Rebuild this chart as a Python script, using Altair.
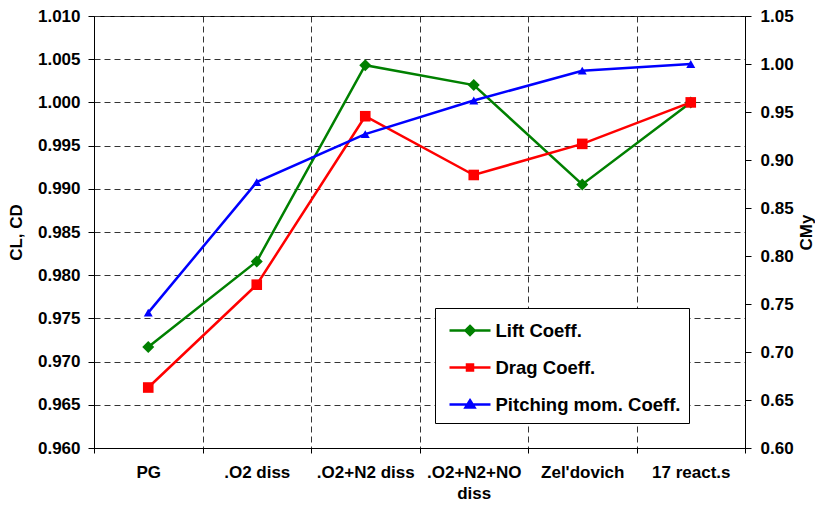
import altair as alt
import pandas as pd

categories = ["PG", ".O2 diss", ".O2+N2 diss", ".O2+N2+NO diss", "Zel'dovich", "17 react.s"]
lift = [0.9717, 0.9816, 1.0043, 1.0020, 0.9905, 1.0000]
drag = [0.9670, 0.9789, 0.9984, 0.9916, 0.9952, 1.0000]
pitch = [0.741, 0.877, 0.927, 0.962, 0.993, 1.000]

series_names = ["Lift Coeff.", "Drag Coeff.", "Pitching mom. Coeff."]
colors = ["#008000", "#ff0000", "#0000ff"]
shapes = ["diamond", "square", "triangle-up"]
marker_sizes = [144, 81, 110]
# legend glyphs: a short line with the series marker on it
legend_glyphs = [
    "M-0.64,0L2.64,0M1,-0.36L1.36,0L1,0.36L0.64,0Z",
    "M-0.64,0L2.64,0M0.76,-0.24L1.24,-0.24L1.24,0.24L0.76,0.24Z",
    "M-0.64,0L2.64,0M1,-0.34L1.36,0.24L0.64,0.24Z",
]

left_ticks = [0.960, 0.965, 0.970, 0.975, 0.980, 0.985, 0.990, 0.995, 1.000, 1.005, 1.010]
right_ticks = [0.60, 0.65, 0.70, 0.75, 0.80, 0.85, 0.90, 0.95, 1.00, 1.05]

left_df = pd.DataFrame({
    "cat": categories * 2,
    "val": lift + drag,
    "series": [series_names[0]] * len(categories) + [series_names[1]] * len(categories),
})
right_df = pd.DataFrame({
    "cat": categories,
    "val": pitch,
    "series": [series_names[2]] * len(categories),
})
legend_df = pd.DataFrame({"key": series_names})

FONT = "Liberation Sans"
FS = 17

x_enc = alt.X(
    "cat:N",
    sort=categories,
    scale=alt.Scale(paddingInner=0, paddingOuter=0),
    axis=alt.Axis(
        title=None,
        tickBand="extent",
        grid=True,
        gridDash=[6, 4],
        gridColor="#333333",
        gridWidth=1,
        labelAngle=0,
        labelOverlap=False,
        labelBound=False,
        labelPadding=11,
        labelLineHeight=21,
        tickSize=5,
        labelExpr="datum.label == '.O2+N2+NO diss' ? ['.O2+N2+NO', 'diss'] : datum.label",
    ),
)

color_scale = alt.Scale(domain=series_names, range=colors)
shape_scale = alt.Scale(domain=series_names, range=shapes)
size_scale = alt.Scale(domain=series_names, range=marker_sizes)
glyph_scale = alt.Scale(domain=series_names, range=legend_glyphs)

LEG_X = 341
LEG_Y = 292

legend = alt.Legend(
    title=None,
    orient="none",
    legendX=LEG_X,
    legendY=LEG_Y,
    symbolSize=625,
    symbolStrokeWidth=2.5,
    symbolOpacity=1,
    labelFont=FONT,
    labelFontSize=18.5,
    labelFontWeight="bold",
    labelColor="black",
    labelLimit=300,
    labelOffset=24,
    strokeColor="black",
    fillColor="white",
    padding=8.5,
    rowPadding=13,
)

left_y = alt.Y(
    "val:Q",
    scale=alt.Scale(domain=[0.960, 1.010], nice=False, zero=False),
    axis=alt.Axis(
        title="CL, CD",
        orient="left",
        values=left_ticks,
        format=".3f",
        grid=True,
        gridDash=[6, 4],
        gridColor="#333333",
        tickSize=6,
        labelPadding=8,
        titlePadding=12,
    ),
)

right_y = alt.Y(
    "val:Q",
    scale=alt.Scale(domain=[0.60, 1.05], nice=False, zero=False),
    axis=alt.Axis(
        title="CMy",
        orient="right",
        values=right_ticks,
        format=".2f",
        grid=False,
        tickSize=6,
        labelPadding=9,
        titlePadding=5,
        titleAngle=-90,
        titleBaseline="top",
    ),
)


def line_layer(df, y):
    return alt.Chart(df).mark_line(strokeWidth=2.5).encode(
        x=x_enc,
        y=y,
        stroke=alt.Stroke("series:N", scale=color_scale, legend=None),
    )


def point_layer(df, y):
    return alt.Chart(df).mark_point(filled=True, opacity=1).encode(
        x=x_enc,
        y=y,
        fill=alt.Fill("series:N", scale=color_scale, legend=None),
        shape=alt.Shape("series:N", scale=shape_scale, legend=None),
        size=alt.Size("series:N", scale=size_scale, legend=None),
    )


left = alt.layer(line_layer(left_df, left_y), point_layer(left_df, left_y))
right = alt.layer(line_layer(right_df, right_y), point_layer(right_df, right_y))

legend_layer = alt.Chart(legend_df).mark_point(filled=True, opacity=0).encode(
    x=alt.value(0),
    y=alt.value(0),
    fill=alt.Fill("key:N", scale=color_scale, legend=legend),
    stroke=alt.Stroke("key:N", scale=color_scale, legend=legend),
    shape=alt.Shape("key:N", scale=glyph_scale, legend=legend),
)

chart = alt.layer(left, right, legend_layer).resolve_scale(
    y="independent", fill="independent", stroke="independent", shape="independent", size="independent"
).properties(
    width=651,
    height=432,
    padding={"left": 86, "top": 8, "right": 70, "bottom": 54},
    autosize=alt.AutoSizeParams(type="none"),
).configure_view(
    stroke="black", strokeWidth=1
).configure_axis(
    labelFont=FONT,
    labelFontSize=FS,
    labelFontWeight="bold",
    labelColor="black",
    titleFont=FONT,
    titleFontSize=FS,
    titleFontWeight="bold",
    titleColor="black",
    domainColor="black",
    tickColor="black",
    domainWidth=1,
)

chart.save("out.html", embed_options={"renderer": "svg", "actions": False})
